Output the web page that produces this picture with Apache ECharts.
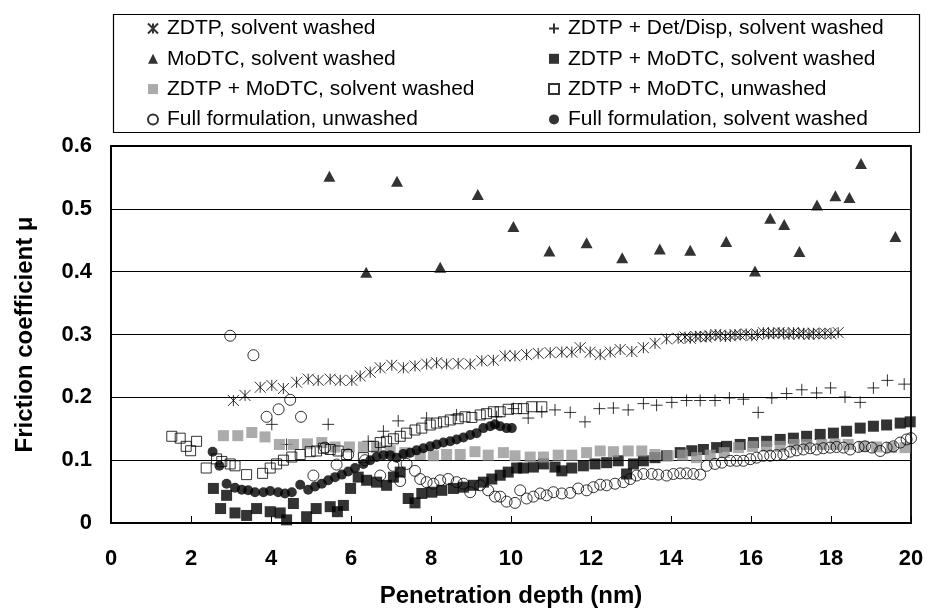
<!DOCTYPE html>
<html>
<head>
<meta charset="utf-8">
<script src="https://cdn.jsdelivr.net/npm/echarts@6/dist/echarts.min.js"></script>
<style>
html,body{margin:0;padding:0;background:#fff;}
#chart{width:927px;height:613px;}
</style>
</head>
<body>
<div id="chart"></div>
<script>
// ---- Data ----
const seriesNames = [
  'ZDTP, solvent washed',
  'ZDTP + Det/Disp, solvent washed',
  'MoDTC, solvent washed',
  'ZDTP + MoDTC, solvent washed',
  'ZDTP + MoDTC, solvent washed ',
  'ZDTP + MoDTC, unwashed',
  'Full formulation, unwashed',
  'Full formulation, solvent washed'
];

const xTicks = [0, 2, 4, 6, 8, 10, 12, 14, 16, 18, 20];
const yTicks = [0, 0.1, 0.2, 0.3, 0.4, 0.5, 0.6];

const zdtpX = [3.06,3.35,3.73,4.02,4.31,4.64,4.93,5.18,5.48,5.73,6.02,6.23,6.48,6.73,7.02,7.31,7.6,7.89,8.14,8.39,8.68,8.98,9.27,9.56,9.85,10.1,10.39,10.68,10.98,11.27,11.52,11.73,11.98,12.23,12.48,12.73,13.02,13.31,13.6,13.89,14.18,14.35,14.48,14.62,14.73,14.88,14.98,15.12,15.23,15.36,15.48,15.6,15.73,15.88,16.02,16.16,16.31,16.44,16.56,16.7,16.81,16.95,17.06,17.2,17.31,17.45,17.56,17.7,17.85,18.0,18.18];
const zdtpY = [0.195,0.203,0.216,0.219,0.214,0.224,0.229,0.227,0.229,0.227,0.227,0.234,0.240,0.247,0.251,0.247,0.250,0.253,0.255,0.253,0.254,0.253,0.258,0.259,0.266,0.266,0.268,0.270,0.271,0.272,0.272,0.279,0.272,0.268,0.272,0.276,0.273,0.279,0.286,0.293,0.294,0.296,0.294,0.297,0.297,0.296,0.298,0.300,0.299,0.297,0.298,0.300,0.299,0.301,0.298,0.300,0.303,0.301,0.302,0.303,0.302,0.300,0.303,0.301,0.302,0.300,0.302,0.301,0.302,0.301,0.303];

const detX = [4.02,4.39,5.43,6.43,6.81,7.18,7.89,8.64,9.64,10.06,10.43,10.77,11.1,11.48,11.85,12.21,12.56,12.93,13.31,13.64,14.02,14.39,14.73,15.1,15.46,15.81,16.18,16.52,16.89,17.27,17.64,17.99,18.35,18.73,19.06,19.41,19.83];
const detY = [0.157,0.125,0.157,0.130,0.146,0.1625,0.167,0.172,0.169,0.182,0.167,0.177,0.180,0.176,0.161,0.182,0.183,0.180,0.190,0.1875,0.192,0.195,0.195,0.195,0.199,0.197,0.176,0.199,0.206,0.212,0.207,0.215,0.2005,0.192,0.215,0.227,0.221];

const modtcX = [5.46,6.38,7.15,8.23,9.17,10.06,10.96,11.89,12.78,13.72,14.48,15.38,16.1,16.48,16.83,17.21,17.65,18.11,18.46,18.75,19.61];
const modtcY = [0.552,0.399,0.544,0.407,0.523,0.472,0.433,0.446,0.422,0.436,0.434,0.448,0.401,0.485,0.475,0.432,0.506,0.521,0.518,0.572,0.456];

const blackSqX = [2.56,2.74,2.89,3.1,3.39,3.64,3.98,4.23,4.39,4.56,4.89,5.13,5.48,5.66,5.81,5.99,6.18,6.39,6.64,6.89,7.06,7.23,7.43,7.6,7.77,8.02,8.27,8.56,8.81,9.06,9.31,9.52,9.73,9.93,10.14,10.31,10.56,10.81,11.1,11.27,11.52,11.81,12.1,12.39,12.68,12.89,13.06,13.31,13.6,13.89,14.23,14.52,14.81,15.14,15.39,15.73,16.06,16.39,16.73,17.06,17.39,17.73,18.06,18.39,18.73,19.06,19.39,19.73,19.98];
const blackSqY = [0.055,0.023,0.044,0.016,0.012,0.023,0.018,0.016,0.005,0.031,0.010,0.023,0.026,0.018,0.028,0.055,0.073,0.068,0.065,0.060,0.073,0.081,0.039,0.032,0.047,0.049,0.052,0.055,0.057,0.060,0.065,0.070,0.076,0.081,0.0875,0.0875,0.089,0.094,0.089,0.083,0.0875,0.091,0.094,0.096,0.099,0.078,0.094,0.099,0.104,0.107,0.112,0.115,0.117,0.120,0.122,0.125,0.128,0.130,0.133,0.135,0.138,0.141,0.143,0.146,0.151,0.154,0.156,0.159,0.161];

const graySqX = [2.81,3.17,3.52,3.85,4.21,4.56,4.91,5.27,5.6,5.96,6.31,6.64,6.98,7.35,7.73,8.06,8.39,8.73,9.1,9.43,9.81,10.1,10.48,10.81,11.18,11.52,11.89,12.23,12.56,12.93,13.27,13.6,13.93,14.29,14.64,14.98,15.33,15.69,16.04,16.39,16.73,17.08,17.39,17.77,18.1,18.43,18.81,19.14,19.51,19.85];
const graySqY = [0.139,0.139,0.144,0.137,0.125,0.125,0.126,0.128,0.121,0.121,0.121,0.120,0.115,0.112,0.109,0.107,0.109,0.109,0.1135,0.108,0.112,0.107,0.105,0.105,0.108,0.108,0.112,0.1146,0.1135,0.1146,0.1146,0.109,0.107,0.108,0.104,0.108,0.112,0.120,0.122,0.122,0.122,0.125,0.125,0.125,0.125,0.125,0.122,0.121,0.120,0.120];

const openSqX = [1.52,1.73,1.88,1.99,2.14,2.38,2.64,2.77,2.98,3.1,3.39,3.79,3.98,4.14,4.31,4.52,4.73,4.98,5.14,5.31,5.48,5.68,5.89,6.31,6.56,6.73,6.89,7.06,7.23,7.39,7.6,7.77,7.98,8.14,8.31,8.48,8.68,8.85,9.02,9.23,9.39,9.56,9.73,9.93,10.14,10.31,10.52,10.77];
const openSqY = [0.138,0.135,0.122,0.115,0.130,0.0875,0.102,0.098,0.094,0.091,0.077,0.079,0.0875,0.094,0.100,0.105,0.109,0.1135,0.1146,0.119,0.117,0.1146,0.109,0.104,0.122,0.128,0.130,0.134,0.138,0.143,0.148,0.151,0.156,0.159,0.161,0.164,0.166,0.169,0.168,0.172,0.174,0.177,0.177,0.181,0.182,0.182,0.185,0.185];

const openCirX = [2.98,3.56,3.89,4.19,4.48,4.75,5.06,5.35,5.64,5.93,6.35,6.73,7.06,7.23,7.39,7.6,7.73,7.89,8.06,8.23,8.43,8.64,8.81,8.98,9.23,9.43,9.6,9.73,9.89,10.1,10.23,10.39,10.56,10.73,10.89,11.06,11.27,11.48,11.68,11.89,12.06,12.23,12.39,12.6,12.81,12.98,13.14,13.31,13.52,13.68,13.89,14.06,14.23,14.39,14.56,14.73,14.89,15.1,15.27,15.48,15.64,15.81,15.98,16.14,16.31,16.48,16.64,16.81,16.98,17.14,17.31,17.48,17.64,17.81,17.98,18.14,18.31,18.48,18.69,18.85,19.02,19.23,19.39,19.56,19.73,19.89,20.0];
const openCirY = [0.298,0.267,0.169,0.181,0.196,0.169,0.0755,0.120,0.093,0.109,0.100,0.0755,0.091,0.0667,0.094,0.083,0.070,0.065,0.0625,0.068,0.070,0.065,0.0625,0.049,0.060,0.052,0.042,0.042,0.034,0.032,0.052,0.039,0.042,0.047,0.044,0.049,0.047,0.048,0.055,0.052,0.057,0.061,0.060,0.0625,0.065,0.070,0.0755,0.078,0.078,0.077,0.0755,0.078,0.079,0.079,0.078,0.077,0.091,0.094,0.096,0.099,0.099,0.099,0.1016,0.104,0.107,0.107,0.108,0.109,0.1135,0.1156,0.117,0.119,0.117,0.119,0.120,0.121,0.120,0.117,0.121,0.122,0.120,0.1146,0.120,0.122,0.128,0.133,0.135];

const fullCirX = [2.54,2.71,2.89,3.1,3.27,3.43,3.6,3.81,3.98,4.18,4.35,4.52,4.73,4.93,5.1,5.27,5.43,5.6,5.77,5.93,6.1,6.31,6.48,6.64,6.81,6.98,7.14,7.31,7.48,7.64,7.81,7.98,8.14,8.31,8.48,8.64,8.81,8.98,9.14,9.31,9.48,9.6,9.73,9.89,10.02];
const fullCirY = [0.1135,0.091,0.0625,0.056,0.053,0.052,0.049,0.049,0.051,0.049,0.047,0.049,0.061,0.053,0.058,0.0625,0.068,0.073,0.077,0.082,0.0875,0.094,0.100,0.105,0.108,0.108,0.104,0.110,0.112,0.1156,0.119,0.122,0.125,0.128,0.130,0.133,0.136,0.140,0.143,0.151,0.154,0.157,0.154,0.151,0.151];

// ---- build ----
function zip(xs, ys) { return xs.map((x, i) => [x, ys[i]]); }
const FONT = '"Liberation Sans", Arial, Helvetica, sans-serif';
const asteriskPath = 'path://M0,0L10,10M10,0L0,10M5,0L5,10';
const plusPath = 'path://M5,0L5,10M0,5L10,5';

const seriesDefs = [
  {name: seriesNames[0], data: zip(zdtpX, zdtpY), symbol: asteriskPath, symbolSize: 11,
   itemStyle: {color: 'rgba(0,0,0,0)', borderColor: '#000', borderWidth: 1}},
  {name: seriesNames[1], data: zip(detX, detY), symbol: plusPath, symbolSize: 12,
   itemStyle: {color: 'rgba(0,0,0,0)', borderColor: '#000', borderWidth: 1}},
  {name: seriesNames[2], data: zip(modtcX, modtcY), symbol: 'triangle', symbolSize: [12, 11],
   itemStyle: {color: '#000'}},
  {name: seriesNames[3], data: zip(blackSqX, blackSqY), symbol: 'rect', symbolSize: 11,
   itemStyle: {color: '#000'}},
  {name: seriesNames[4], data: zip(graySqX, graySqY), symbol: 'rect', symbolSize: 11,
   itemStyle: {color: '#969696'}},
  {name: seriesNames[5], data: zip(openSqX, openSqY), symbol: 'rect', symbolSize: 10,
   itemStyle: {color: 'rgba(0,0,0,0)', borderColor: '#000', borderWidth: 1}},
  {name: seriesNames[6], data: zip(openCirX, openCirY), symbol: 'circle', symbolSize: 11,
   itemStyle: {color: 'rgba(0,0,0,0)', borderColor: '#000', borderWidth: 1}},
  {name: seriesNames[7], data: zip(fullCirX, fullCirY), symbol: 'circle', symbolSize: 10,
   itemStyle: {color: '#000'}}
];

const series = seriesDefs.map(d => Object.assign({
  type: 'scatter',
  emphasis: {disabled: true},
  animation: false
}, d));

const legendText = {fontFamily: FONT, fontSize: 21, lineHeight: 21, color: '#000', padding: [0, 0, 0, 4]};
const legendCommon = {
  orient: 'vertical', top: 18, itemGap: 9.3, itemWidth: 10, itemHeight: 10,
  textStyle: legendText, selectedMode: false, padding: 0
};

const chart = echarts.init(document.getElementById('chart'), null, {renderer: 'canvas'});
chart.setOption({
  backgroundColor: '#fff',
  animation: false,
  textStyle: {fontFamily: FONT},
  graphic: [{
    type: 'rect', left: 111, top: 12, silent: true,
    shape: {width: 806, height: 118},
    style: {fill: 'none', stroke: '#000', lineWidth: 1.2}
  }],
  legend: [
    Object.assign({left: 147, data: [seriesNames[0], seriesNames[2], seriesNames[4], seriesNames[6]]}, legendCommon),
    Object.assign({left: 548, data: [seriesNames[1], seriesNames[3], seriesNames[5], seriesNames[7]]}, legendCommon)
  ],
  grid: {left: 111, right: 16, top: 146, bottom: 83, show: true, borderColor: '#000', borderWidth: 1.8, backgroundColor: '#fff'},
  xAxis: {
    type: 'value', min: xTicks[0], max: xTicks[xTicks.length - 1], interval: xTicks[1] - xTicks[0],
    name: 'Penetration depth (nm)', nameLocation: 'middle', nameGap: 61,
    nameTextStyle: {fontFamily: FONT, fontSize: 24, fontWeight: 'bold', color: '#000'},
    axisLine: {lineStyle: {color: '#000', width: 1.8}},
    axisTick: {show: true, inside: true, length: 7, lineStyle: {color: '#000', width: 1}},
    axisLabel: {fontFamily: FONT, fontSize: 22, fontWeight: 'bold', color: '#000', margin: 25},
    splitLine: {show: false}
  },
  yAxis: {
    type: 'value', min: yTicks[0], max: yTicks[yTicks.length - 1], interval: yTicks[1] - yTicks[0],
    name: 'Friction coefficient \u03bc', nameLocation: 'middle', nameGap: 74,
    nameTextStyle: {fontFamily: FONT, fontSize: 24, fontWeight: 'bold', color: '#000'},
    axisLine: {show: true, lineStyle: {color: '#000', width: 1.8}},
    axisTick: {show: true, inside: true, length: 7, lineStyle: {color: '#000', width: 1}},
    axisLabel: {fontFamily: FONT, fontSize: 22, fontWeight: 'bold', color: '#000', margin: 19,
      formatter: v => String(Math.round(v * 10) / 10)},
    splitLine: {show: true, lineStyle: {color: '#000', width: 1}}
  },
  series: series
});
</script>
</body>
</html>
